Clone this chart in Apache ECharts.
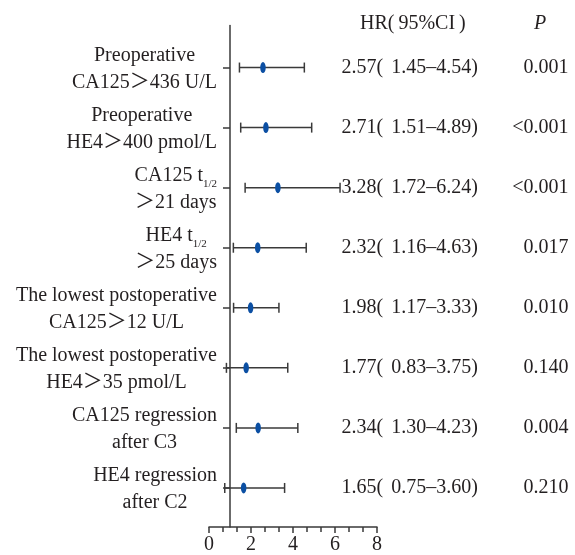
<!DOCTYPE html>
<html>
<head>
<meta charset="utf-8">
<script src="https://cdn.jsdelivr.net/npm/echarts@6/dist/echarts.min.js"></script>
<style>
  html, body { margin: 0; padding: 0; background: #fff; }
  #chart { width: 575px; height: 555px; }
</style>
</head>
<body>
<div id="chart"></div>
<script>
// Risk factors (two-line labels; optional subscript after the first line)
const factorTop = ['Preoperative', 'Preoperative', 'CA125 t', 'HE4 t',
  'The lowest postoperative', 'The lowest postoperative', 'CA125 regression', 'HE4 regression'];
const factorSub = ['', '', '1/2', '1/2', '', '', '', ''];
const factorBottom = ['CA125＞436 U/L', 'HE4＞400 pmol/L', '＞21 days', '＞25 days',
  'CA125＞12 U/L', 'HE4＞35 pmol/L', 'after C3', 'after C2'];

// Hazard ratios with 95% confidence intervals
const hr     = [2.57, 2.71, 3.28, 2.32, 1.98, 1.77, 2.34, 1.65];
const ciLow  = [1.45, 1.51, 1.72, 1.16, 1.17, 0.83, 1.30, 0.75];
const ciHigh = [4.54, 4.89, 6.24, 4.63, 3.33, 3.75, 4.23, 3.60];
const pValues = ['0.001', '<0.001', '<0.001', '0.017', '0.010', '0.140', '0.004', '0.210'];

// Column headers
const hrHeader = 'HR(\u200995%CI\u2009)';
const pHeader = 'P';

// X axis range and reference line (HR = 1)
const xMin = 0, xMax = 8, xStep = 2;
const refValue = 1;

// Layout
const W = 575;
const gridLeft = 209, gridRight = 198, gridTop = 25.5, gridBottom = 25;
const plotW = W - gridLeft - gridRight;
const plotRightX = W - gridRight;
const hrColumnX = 341.5;
const pColumnX = 568.5;

const FONT = '"Liberation Serif", "Noto Sans CJK SC", serif';
const TEXT = '#231f20';
const LINE = '#3a3a3a';

const rowIdx = hr.map((_, i) => i + 1);
const rowMin = 0.3, rowMax = 8.65;

const hrText = hr.map((v, i) =>
  `${v.toFixed(2)}(\u2009\u2009${ciLow[i].toFixed(2)}–${ciHigh[i].toFixed(2)})`);

const rowAxisBase = {
  type: 'value',
  inverse: true,
  min: rowMin,
  max: rowMax,
  splitLine: { show: false },
  axisTick: { show: false },
  axisLine: { show: false, onZero: false }
};

const chart = echarts.init(document.getElementById('chart'), null, { renderer: 'canvas' });

chart.setOption({
  backgroundColor: '#fff',
  animation: false,
  title: [
    {
      text: hrHeader, left: 355, top: 9,
      textStyle: { fontFamily: FONT, fontSize: 20, fontWeight: 'normal', color: TEXT }
    },
    {
      text: pHeader, left: 529, top: 9,
      textStyle: { fontFamily: FONT, fontSize: 20, fontWeight: 'normal', fontStyle: 'italic', color: TEXT }
    }
  ],
  grid: { left: gridLeft, right: gridRight, top: gridTop, bottom: gridBottom, containLabel: false },
  xAxis: {
    type: 'value',
    min: xMin, max: xMax, interval: xStep,
    axisLine: { onZero: false, lineStyle: { color: LINE, width: 1.5 } },
    axisTick: { show: true, inside: false, length: 6, lineStyle: { color: LINE, width: 1.5 } },
    minorTick: { show: true, splitNumber: 3, length: 5, lineStyle: { color: LINE, width: 1.5 } },
    splitLine: { show: false },
    minorSplitLine: { show: false },
    axisLabel: { fontFamily: FONT, fontSize: 20, color: TEXT, margin: 8 }
  },
  yAxis: [
    Object.assign({}, rowAxisBase, {
      position: 'left',
      offset: -(refValue - xMin) * plotW / (xMax - xMin),
      axisLine: { show: true, onZero: false, lineStyle: { color: LINE, width: 1.5 } },
      axisTick: { show: true, inside: false, length: 7, customValues: rowIdx,
        lineStyle: { color: LINE, width: 1.5 } },
      axisLabel: {
        customValues: rowIdx,
        margin: 13,
        padding: [3, 0, 0, 0],
        formatter: function (value) {
          const i = Math.round(value) - 1;
          let first = `{a|${factorTop[i]}}`;
          if (factorSub[i]) first += `{s|${factorSub[i]}}`;
          return first + '\n' + `{a|${factorBottom[i]}}`;
        },
        rich: {
          a: { fontFamily: FONT, fontSize: 20, color: TEXT, lineHeight: 26.5, align: 'center' },
          s: { fontFamily: FONT, fontSize: 11, color: TEXT, lineHeight: 17, verticalAlign: 'bottom', align: 'center' }
        }
      }
    }),
    Object.assign({}, rowAxisBase, {
      position: 'right',
      offset: hrColumnX - plotRightX,
      axisLabel: {
        customValues: rowIdx,
        margin: 0,
        align: 'left',
        padding: [0, 0, 3, 0],
        fontFamily: FONT, fontSize: 20, color: TEXT,
        formatter: function (value) { return hrText[Math.round(value) - 1]; }
      }
    }),
    Object.assign({}, rowAxisBase, {
      position: 'right',
      offset: pColumnX - plotRightX,
      axisLabel: {
        customValues: rowIdx,
        margin: 0,
        align: 'right',
        padding: [0, 0, 3, 0],
        fontFamily: FONT, fontSize: 20, color: TEXT,
        formatter: function (value) { return pValues[Math.round(value) - 1]; }
      }
    })
  ],
  series: [
    {
      type: 'custom',
      xAxisIndex: 0,
      yAxisIndex: 0,
      clip: false,
      encode: { x: [0, 1], y: 2 },
      data: hr.map((_, i) => [ciLow[i], ciHigh[i], rowIdx[i]]),
      renderItem: function (params, api) {
        const y = api.value(2);
        const p0 = api.coord([api.value(0), y]);
        const p1 = api.coord([api.value(1), y]);
        const cap = 5;
        const style = { stroke: LINE, lineWidth: 1.5, fill: null };
        return {
          type: 'group',
          children: [
            { type: 'line', shape: { x1: p0[0], y1: p0[1], x2: p1[0], y2: p1[1] }, style: style },
            { type: 'line', shape: { x1: p0[0], y1: p0[1] - cap, x2: p0[0], y2: p0[1] + cap }, style: style },
            { type: 'line', shape: { x1: p1[0], y1: p1[1] - cap, x2: p1[0], y2: p1[1] + cap }, style: style }
          ]
        };
      },
      z: 2
    },
    {
      type: 'scatter',
      xAxisIndex: 0,
      yAxisIndex: 0,
      data: hr.map((v, i) => [v, rowIdx[i]]),
      symbol: 'circle',
      symbolSize: [5.5, 11],
      itemStyle: { color: '#0b4fa3', opacity: 1 },
      z: 3
    }
  ]
});
</script>
</body>
</html>
